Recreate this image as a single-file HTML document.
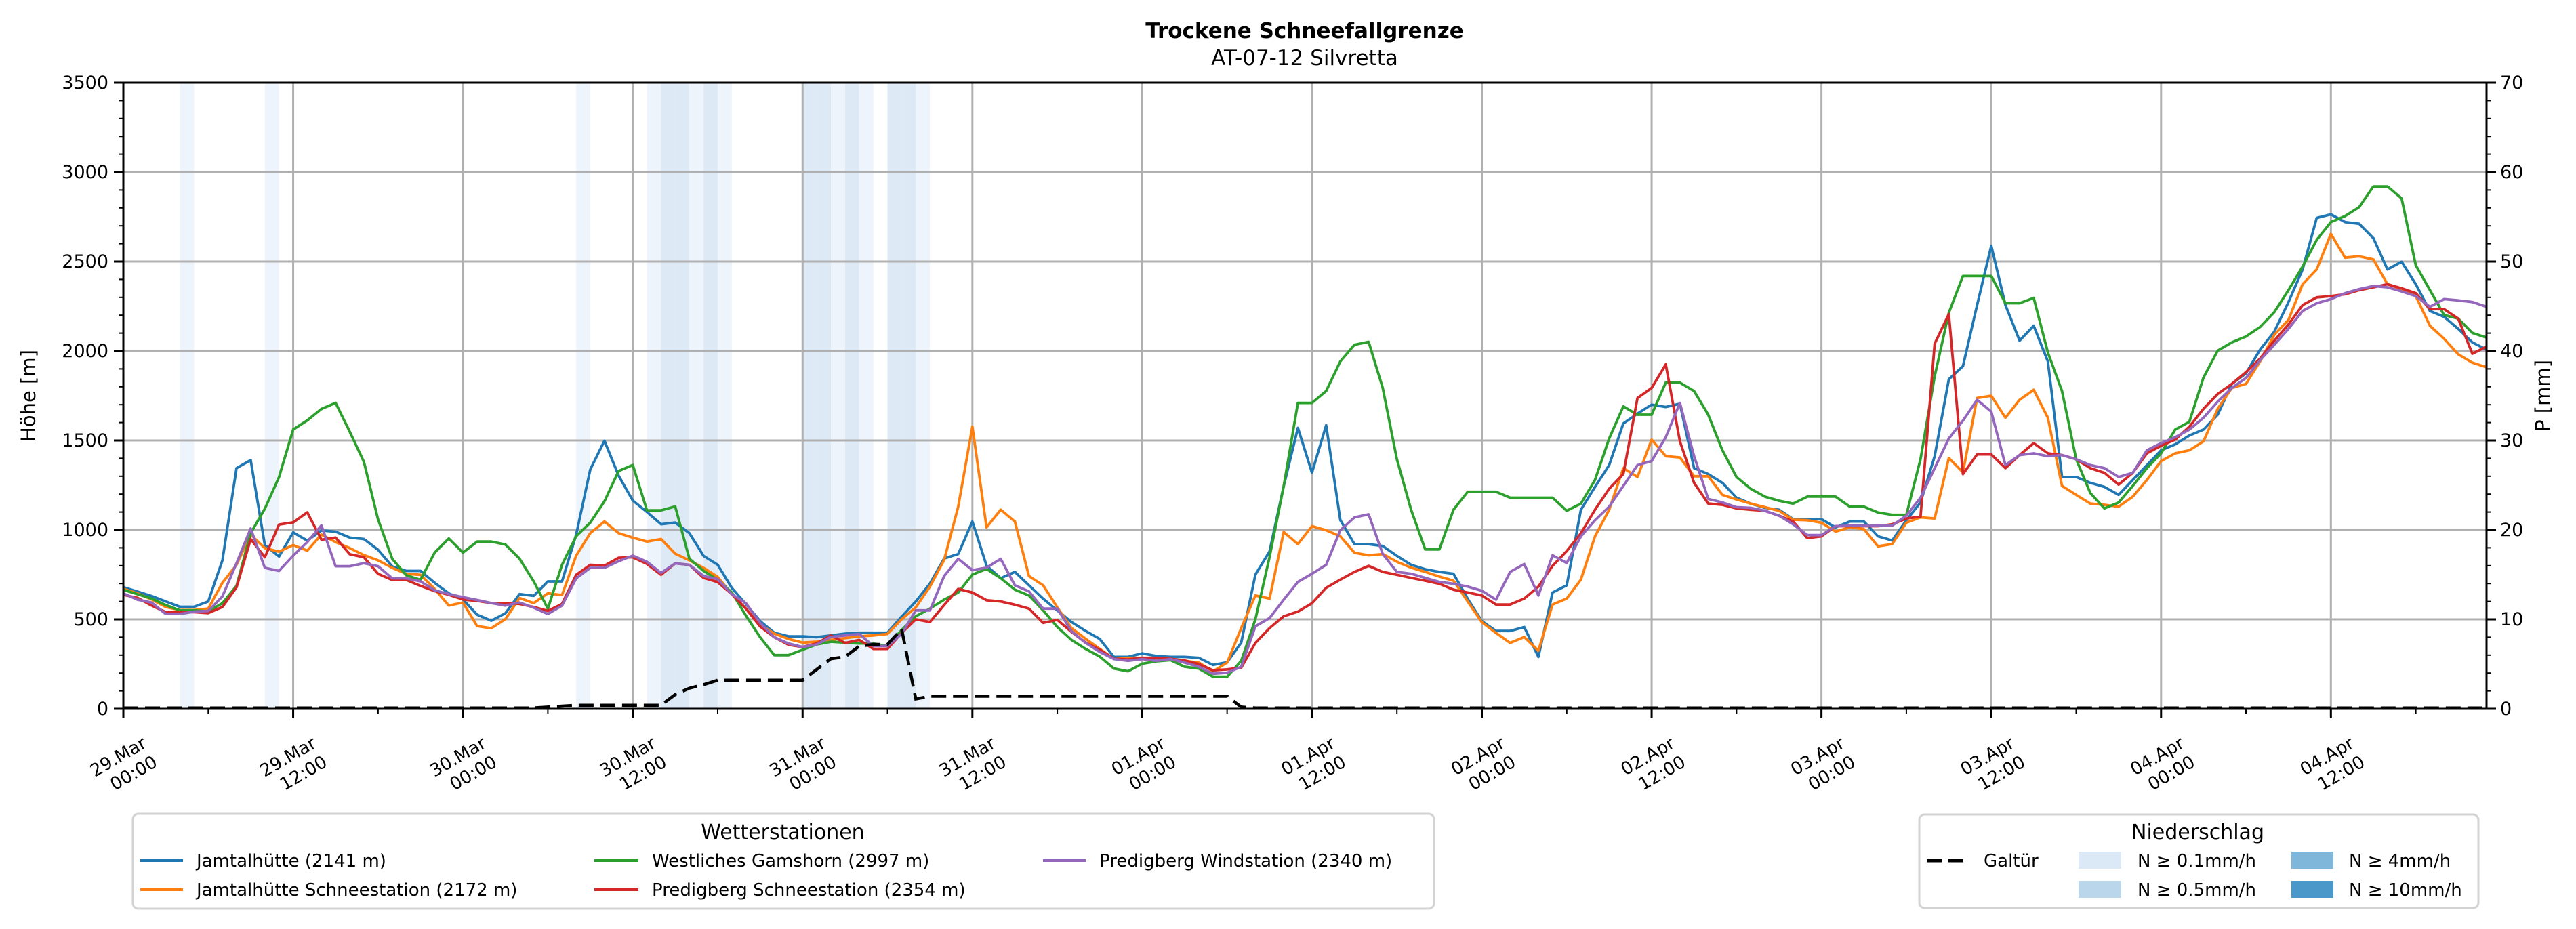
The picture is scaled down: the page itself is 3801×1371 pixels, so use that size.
<!DOCTYPE html>
<html><head><meta charset="utf-8">
<style>
html,body{margin:0;padding:0;background:#fff;}
svg{display:block;font-family:"DejaVu Sans","Liberation Sans",sans-serif;}
</style></head>
<body>
<svg id="chart" width="3801" height="1371" viewBox="0 0 3801 1371" xmlns="http://www.w3.org/2000/svg">
<rect width="3801" height="1371" fill="#fff"/>
<text x="1925" y="56" text-anchor="middle" font-size="31" font-weight="bold">Trockene Schneefallgrenze</text>
<text x="1925" y="96" text-anchor="middle" font-size="31">AT-07-12 Silvretta</text>
<g id="bands"></g>
<g id="grid"></g>
<g id="series"></g>
<g id="axes"></g>
<text transform="translate(52,584) rotate(-90)" text-anchor="middle" font-size="29">Höhe [m]</text>
<text transform="translate(3762,584) rotate(-90)" text-anchor="middle" font-size="29">P [mm]</text>

<g>
<rect x="196" y="1201" width="1920" height="140" rx="8" fill="#fff" stroke="#d3d3d3" stroke-width="3"/>
<text x="1155" y="1238" text-anchor="middle" font-size="30">Wetterstationen</text>
<g><line x1="207" y1="1270" x2="270" y2="1270" stroke="#1f77b4" stroke-width="4"/><text x="290" y="1279" font-size="26">Jamtalhütte (2141 m)</text></g>
<g><line x1="207" y1="1313" x2="270" y2="1313" stroke="#ff7f0e" stroke-width="4"/><text x="290" y="1322" font-size="26">Jamtalhütte Schneestation (2172 m)</text></g>
<g><line x1="877" y1="1270" x2="942" y2="1270" stroke="#2ca02c" stroke-width="4"/><text x="962" y="1279" font-size="26">Westliches Gamshorn (2997 m)</text></g>
<g><line x1="877" y1="1313" x2="942" y2="1313" stroke="#d62728" stroke-width="4"/><text x="962" y="1322" font-size="26">Predigberg Schneestation (2354 m)</text></g>
<g><line x1="1539" y1="1270" x2="1602" y2="1270" stroke="#9467bd" stroke-width="4"/><text x="1622" y="1279" font-size="26">Predigberg Windstation (2340 m)</text></g>
</g>

<g>
<rect x="2832" y="1202" width="825" height="138" rx="8" fill="#fff" stroke="#d3d3d3" stroke-width="3"/>
<text x="3243" y="1238" text-anchor="middle" font-size="30">Niederschlag</text>
<g><line x1="2843" y1="1270" x2="2900" y2="1270" stroke="#000" stroke-width="5" stroke-dasharray="22,10"/><text x="2927" y="1279" font-size="26">Galtür</text></g>
<g><rect x="3067" y="1257" width="63" height="25" fill="#dbe9f6"/><text x="3154" y="1279" font-size="26">N ≥ 0.1mm/h</text></g>
<g><rect x="3067" y="1300" width="63" height="25" fill="#bad6eb"/><text x="3154" y="1322" font-size="26">N ≥ 0.5mm/h</text></g>
<g><rect x="3381" y="1257" width="62" height="25" fill="#7fb7da"/><text x="3466" y="1279" font-size="26">N ≥ 4mm/h</text></g>
<g><rect x="3381" y="1300" width="62" height="25" fill="#4a98c9"/><text x="3466" y="1322" font-size="26">N ≥ 10mm/h</text></g>
</g>
</svg>
<script>
const jamtal = [680,655,630,600,570,570,600,830,1345,1390,
915,851,986,940,997,990,957,949,889,796,
771,771,704,645,611,526,492,534,641,631,
712,712,974,1338,1498,1303,1164,1100,1032,1041,
982,855,805,675,585,490,425,405,405,400,
410,420,425,425,425,515,600,700,840,865,
1047,800,730,765,690,615,550,485,435,390,
290,290,310,295,290,290,285,245,260,370,
750,880,1245,1570,1320,1585,1055,920,920,910,
855,805,780,765,755,615,490,435,435,457,
290,650,690,1113,1240,1362,1595,1650,1700,1687,
1705,1345,1312,1263,1180,1147,1123,1113,1060,1060,
1060,1014,1047,1047,964,941,1054,1153,1412,1842,
1915,2257,2588,2257,2058,2141,1942,1296,1296,1263,
1240,1196,1279,1362,1445,1478,1528,1561,1644,1816,
1875,2008,2108,2273,2456,2744,2764,2721,2711,2631,
2456,2499,2373,2224,2191,2124,2048,2008];
const jamtalSchnee = [670,645,611,569,552,552,560,704,805,974,
898,878,915,884,974,932,898,859,830,788,
754,749,670,577,594,462,450,501,619,591,
645,636,856,982,1047,982,957,935,949,867,
830,788,737,640,560,470,420,390,370,375,
385,395,405,410,418,500,567,683,832,1130,
1577,1014,1113,1047,742,690,567,451,391,335,
278,285,285,278,278,268,258,209,258,451,
633,616,988,921,1021,998,964,872,858,865,
822,789,765,739,716,600,484,424,368,401,
325,583,616,722,964,1113,1345,1296,1505,1412,
1405,1300,1300,1196,1170,1147,1127,1107,1057,1054,
1040,991,1014,1004,908,921,1040,1070,1064,1402,
1322,1737,1750,1627,1727,1783,1627,1246,1196,1147,
1140,1130,1186,1279,1385,1428,1445,1495,1677,1793,
1816,1942,2091,2174,2373,2456,2655,2522,2529,2512,
2373,2346,2307,2141,2068,1982,1935,1909];
const gamshorn = [665,640,616,580,550,550,545,590,687,982,
1118,1295,1561,1612,1676,1710,1549,1380,1059,839,
746,721,873,952,873,935,935,918,839,712,
560,805,965,1041,1160,1329,1363,1109,1109,1131,
839,771,721,650,520,400,300,300,330,360,
375,370,365,365,350,440,517,560,610,650,
750,782,730,666,633,550,457,385,335,292,
225,210,252,265,272,235,225,179,179,268,
500,848,1245,1710,1710,1776,1942,2035,2051,1793,
1395,1113,891,891,1113,1213,1213,1213,1180,1180,
1180,1180,1107,1147,1279,1511,1690,1644,1644,1823,
1823,1776,1644,1445,1296,1230,1186,1163,1147,1186,
1186,1186,1130,1130,1097,1084,1084,1395,1859,2214,
2419,2419,2419,2267,2267,2297,1992,1776,1395,1206,
1120,1153,1246,1345,1428,1561,1604,1852,2002,2048,
2081,2134,2217,2340,2472,2621,2721,2754,2804,2920,
2920,2853,2479,2340,2201,2181,2101,2075];
const predigSchnee = [637,620,577,540,540,540,535,569,679,949,
847,1030,1042,1098,945,957,864,847,754,720,
720,687,658,637,611,603,591,591,586,569,
547,586,749,805,800,844,847,810,749,813,
805,732,708,640,560,460,400,358,345,365,
410,368,385,335,335,424,500,485,580,670,
650,607,600,582,560,480,497,430,370,330,
280,276,285,285,280,270,250,215,220,230,
368,451,517,543,590,676,722,765,799,765,
749,732,716,699,666,650,633,583,583,616,
683,799,882,981,1113,1230,1312,1737,1793,1925,
1495,1263,1147,1140,1120,1113,1107,1080,1047,954,
964,1021,1021,1021,1021,1031,1064,1074,2041,2207,
1312,1422,1422,1345,1418,1485,1428,1418,1395,1345,
1319,1253,1319,1428,1471,1505,1577,1677,1760,1816,
1882,1958,2058,2148,2257,2300,2307,2317,2340,2356,
2373,2350,2323,2234,2234,2181,1985,2025];
const predigWind = [645,610,594,530,530,543,547,628,814,1008,
788,771,856,932,1025,797,797,814,797,729,
729,712,662,641,624,608,591,577,594,565,
530,577,729,788,788,825,856,822,759,813,
805,742,725,640,590,480,400,365,345,360,
401,410,418,351,351,418,550,550,742,838,
775,789,838,690,656,560,560,434,368,318,
278,268,278,268,278,258,235,196,202,235,
461,507,610,709,755,805,998,1070,1087,865,
765,755,732,709,699,683,660,610,765,809,
633,858,815,964,1054,1130,1246,1362,1385,1518,
1710,1412,1173,1153,1127,1123,1107,1080,1031,971,
971,1021,1024,1024,1024,1024,1080,1180,1345,1511,
1611,1727,1661,1362,1418,1428,1412,1418,1395,1362,
1345,1296,1319,1445,1485,1518,1561,1627,1717,1793,
1849,1949,2035,2124,2224,2267,2290,2323,2346,2363,
2356,2333,2307,2247,2290,2283,2274,2247];
const galtuer = [0.1,0.1,0.1,0.1,0.1,0.1,0.1,0.1,0.1,0.1,
0.1,0.1,0.1,0.1,0.1,0.1,0.1,0.1,0.1,0.1,
0.1,0.1,0.1,0.1,0.1,0.1,0.1,0.1,0.1,0.1,
0.2,0.3,0.4,0.4,0.4,0.4,0.4,0.4,0.4,1.6,
2.3,2.7,3.2,3.2,3.2,3.2,3.2,3.2,3.2,4.4,
5.6,5.8,7.0,7.2,7.2,8.9,1.1,1.4,1.4,1.4,
1.4,1.4,1.4,1.4,1.4,1.4,1.4,1.4,1.4,1.4,
1.4,1.4,1.4,1.4,1.4,1.4,1.4,1.4,1.4,0.2,
0.1,0.1,0.1,0.1,0.1,0.1,0.1,0.1,0.1,0.1,
0.1,0.1,0.1,0.1,0.1,0.1,0.1,0.1,0.1,0.1,
0.1,0.1,0.1,0.1,0.1,0.1,0.1,0.1,0.1,0.1,
0.1,0.1,0.1,0.1,0.1,0.1,0.1,0.1,0.1,0.1,
0.1,0.1,0.1,0.1,0.1,0.1,0.1,0.1,0.1,0.1,
0.1,0.1,0.1,0.1,0.1,0.1,0.1,0.1,0.1,0.1,
0.1,0.1,0.1,0.1,0.1,0.1,0.1,0.1,0.1,0.1,
0.1,0.1,0.1,0.1,0.1,0.1,0.1,0.1,0.1,0.1,
0.1,0.1,0.1,0.1,0.1,0.1,0.1,0.1];
const bandHours = [4,10,32,37,38,39,40,41,42,48,49,50,51,52,54,55,56];
const bandLevels = [1,1,1,1,2,2,1,2,1,2,2,1,2,1,2,2,1];
const yTicks = [0,500,1000,1500,2000,2500,3000,3500];
const y2Ticks = [0,10,20,30,40,50,60,70];
const xTickDays = ["29.Mar","29.Mar","30.Mar","30.Mar","31.Mar","31.Mar","01.Apr","01.Apr","02.Apr","02.Apr","03.Apr","03.Apr","04.Apr","04.Apr"];
const xTickTimes = ["00:00","12:00","00:00","12:00","00:00","12:00","00:00","12:00","00:00","12:00","00:00","12:00","00:00","12:00"];

const NS = "http://www.w3.org/2000/svg";
const L = 182, R = 3669, T = 122, B = 1046, HMAX = 167;
const x = h => L + h * (R - L) / HMAX;
const y = v => B - v * (B - T) / 3500;
const y2 = v => B - v * (B - T) / 70;
function mk(tag, attrs, parent) {
  const e = document.createElementNS(NS, tag);
  for (const k in attrs) e.setAttribute(k, attrs[k]);
  parent.appendChild(e);
  return e;
}
const gB = document.getElementById('bands');
const gG = document.getElementById('grid');
const gS = document.getElementById('series');
const gA = document.getElementById('axes');
const bandColors = ["", "#eef4fb", "#dde9f4"];
bandHours.forEach((h, i) => {
  const r = mk('rect', {x: x(h), y: T, width: x(h + 1) - x(h), height: B - T, fill: bandColors[bandLevels[i]]}, gB);
  
  
});
yTicks.forEach(v => {
  const l = mk('line', {x1: L, x2: R, y1: y(v), y2: y(v), stroke: '#b0b0b0', 'stroke-width': 3}, gG);
  
  
});
xTickDays.forEach((d, i) => {
  const h = i * 12;
  const l = mk('line', {x1: x(h), x2: x(h), y1: T, y2: B, stroke: '#b0b0b0', 'stroke-width': 3}, gG);
  
  
});
const seriesDefs = [
  [jamtal, '#1f77b4', 'series-jamtalhuette'],
  [jamtalSchnee, '#ff7f0e', 'series-jamtalhuette-schnee'],
  [gamshorn, '#2ca02c', 'series-gamshorn'],
  [predigSchnee, '#d62728', 'series-predigberg-schnee'],
  [predigWind, '#9467bd', 'series-predigberg-wind']
];
seriesDefs.forEach(([arr, col, name]) => {
  const pts = arr.map((v, i) => x(i).toFixed(1) + ',' + y(v).toFixed(1)).join(' ');
  const p = mk('polyline', {points: pts, fill: 'none', stroke: col, 'stroke-width': 3.8, 'stroke-linejoin': 'round'}, gS);
  
  
});
{
  const pts = galtuer.map((v, i) => x(i).toFixed(1) + ',' + y2(v).toFixed(1)).join(' ');
  const p = mk('polyline', {points: pts, fill: 'none', stroke: '#000', 'stroke-width': 4.5, 'stroke-dasharray': '22,10'}, gS);
  
  
}
const frame = mk('rect', {x: L, y: T, width: R - L, height: B - T, fill: 'none', stroke: '#000', 'stroke-width': 3}, gA);


for (let v = 0; v <= 3500; v += 100) {
  const major = v % 500 === 0;
  mk('line', {x1: L, x2: L - (major ? 14 : 7), y1: y(v), y2: y(v), stroke: '#000', 'stroke-width': major ? 3 : 2}, gA);
}
yTicks.forEach(v => {
  const t = mk('text', {x: L - 22, y: y(v) + 9, 'text-anchor': 'end', 'font-size': 27}, gA);
  t.textContent = v;
  
  
});
for (let v = 0; v <= 70; v += 2) {
  const major = v % 10 === 0;
  mk('line', {x1: R, x2: R + (major ? 14 : 7), y1: y2(v), y2: y2(v), stroke: '#000', 'stroke-width': major ? 3 : 2}, gA);
}
y2Ticks.forEach(v => {
  const t = mk('text', {x: R + 20, y: y2(v) + 9, 'text-anchor': 'start', 'font-size': 27}, gA);
  t.textContent = v;
  
  
});
for (let h = 0; h <= HMAX; h += 6) {
  const major = h % 12 === 0;
  mk('line', {x1: x(h), x2: x(h), y1: B, y2: B + (major ? 14 : 7), stroke: '#000', 'stroke-width': major ? 3 : 2}, gA);
}
xTickDays.forEach((d, i) => {
  const h = i * 12;
  const g = mk('g', {transform: `translate(${x(h) + 36},${B + 56}) rotate(-30)`}, gA);
  
  
  const t1 = mk('text', {x: 0, y: 0, 'text-anchor': 'end', 'font-size': 26}, g);
  t1.textContent = d;
  const t2 = mk('text', {x: 0, y: 32, 'text-anchor': 'end', 'font-size': 26}, g);
  t2.textContent = xTickTimes[i];
});
</script>
</body></html>
